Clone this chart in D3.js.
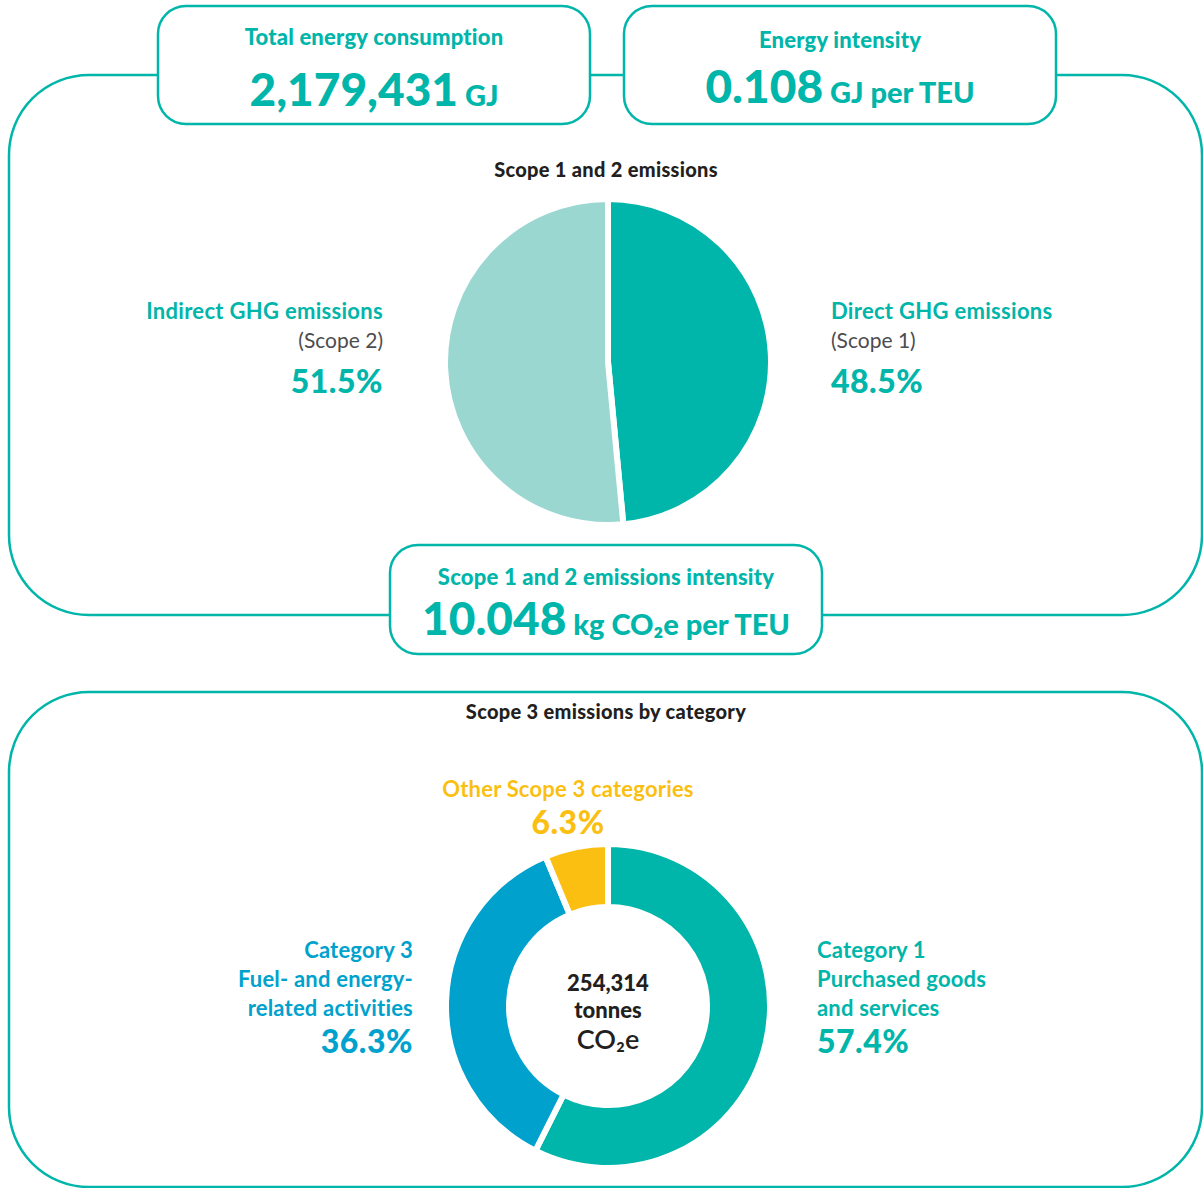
<!DOCTYPE html>
<html>
<head>
<meta charset="utf-8">
<script src="https://cdn.jsdelivr.net/npm/d3@7"></script>
<style>
  body { margin: 0; background: #fff; }
  text { font-family: Lato, "Open Sans", sans-serif; }
</style>
</head>
<body>
<div id="chart"></div>
<script>
// headline metrics
const metricTitles = ["Total energy consumption", "Energy intensity", "Scope 1 and 2 emissions intensity"];
const metricValues = ["2,179,431", "0.108", "10.048"];
const metricUnits = ["GJ", "GJ per TEU", "kg CO\u2082e per TEU"];

// scope 1 and 2 pie
const scope12Labels = ["Direct GHG emissions", "Indirect GHG emissions"];
const scope12Subs = ["(Scope 1)", "(Scope 2)"];
const scope12Values = [48.5, 51.5];

// scope 3 donut
const scope3Labels = [
  ["Category 1", "Purchased goods", "and services"],
  ["Category 3", "Fuel- and energy-", "related activities"],
  ["Other Scope 3 categories"]
];
const scope3Values = [57.4, 36.3, 6.3];
const scope3Total = ["254,314", "tonnes", "CO\u2082e"];

const teal = "#00b5a9", light = "#9ad7d1", blue = "#00a2cd", yellow = "#fbbf12", dark = "#231f20";

const W = 1203, H = 1188;
const svg = d3.select("#chart").append("svg")
    .attr("width", W).attr("height", H);

// outer frames
svg.append("rect").attr("x", 9).attr("y", 75).attr("width", 1193).attr("height", 540)
    .attr("rx", 80).attr("fill", "none").attr("stroke", teal).attr("stroke-width", 2.5);
svg.append("rect").attr("x", 9).attr("y", 692).attr("width", 1193).attr("height", 495)
    .attr("rx", 80).attr("fill", "none").attr("stroke", teal).attr("stroke-width", 2.5);

// metric boxes
const boxes = [
  {x: 158, y: 6, w: 432, h: 118, ty: 45, vy: 106},
  {x: 624, y: 6, w: 432, h: 118, ty: 48, vy: 103},
  {x: 390, y: 545, w: 432, h: 109, ty: 585, vy: 635}
];
boxes.forEach(function(b, i) {
  svg.append("rect").attr("x", b.x).attr("y", b.y).attr("width", b.w).attr("height", b.h)
      .attr("rx", 28).attr("fill", "#fff").attr("stroke", teal).attr("stroke-width", 2.5);
  svg.append("text").attr("x", b.x + b.w / 2).attr("y", b.ty)
      .attr("text-anchor", "middle").attr("fill", teal)
      .style("font-size", "22px").style("font-weight", "900").style("letter-spacing", "0.2px")
      .text(metricTitles[i]);
  const t = svg.append("text").attr("x", b.x + b.w / 2).attr("y", b.vy)
      .attr("text-anchor", "middle").attr("fill", teal).style("font-weight", "900");
  t.append("tspan").style("font-size", "46px").text(metricValues[i]);
  t.append("tspan").style("font-size", "29px").text(" " + metricUnits[i]);
});

// Scope 1 and 2 pie
const pcx = 608, pcy = 362, pr = 163;
svg.append("text").attr("x", 606).attr("y", 177).attr("text-anchor", "middle")
    .attr("fill", dark).style("font-size", "20px").style("font-weight", "900")
    .style("letter-spacing", "0.3px")
    .text("Scope 1 and 2 emissions");

const pie = d3.pie().sort(null).value(d => d);
const arc12 = d3.arc().innerRadius(0).outerRadius(pr);
svg.append("g").attr("transform", "translate(" + pcx + "," + pcy + ")")
  .selectAll("path")
  .data(pie(scope12Values))
  .enter().append("path")
    .attr("d", arc12)
    .attr("fill", (d, i) => i == 0 ? teal : light)
    .attr("stroke", "#fff").attr("stroke-width", 6);

// pie labels
const p12pos = [{x: 831, anchor: "start"}, {x: 383, anchor: "end"}];
p12pos.forEach(function(p, i) {
  svg.append("text").attr("x", p.x).attr("y", 319).attr("text-anchor", p.anchor)
      .attr("fill", teal).style("font-size", "22px").style("font-weight", "bold")
      .style("letter-spacing", "0.3px")
      .text(scope12Labels[i]);
  svg.append("text").attr("x", p.x).attr("y", 348).attr("text-anchor", p.anchor)
      .attr("fill", "#4d4d4f").style("font-size", "21px")
      .text(scope12Subs[i]);
  svg.append("text").attr("x", p.x).attr("y", 393).attr("text-anchor", p.anchor)
      .attr("fill", teal).style("font-size", "32px").style("font-weight", "900")
      .style("letter-spacing", "0.5px")
      .text(scope12Values[i].toFixed(1) + "%");
});

// Scope 3 donut
const dcx = 608, dcy = 1006, dr = 162, dri = 99;
svg.append("text").attr("x", 606).attr("y", 719).attr("text-anchor", "middle")
    .attr("fill", dark).style("font-size", "20px").style("font-weight", "900")
    .style("letter-spacing", "0.3px")
    .text("Scope 3 emissions by category");

const arc3 = d3.arc().innerRadius(dri).outerRadius(dr);
const s3colors = [teal, blue, yellow];
svg.append("g").attr("transform", "translate(" + dcx + "," + dcy + ")")
  .selectAll("path")
  .data(pie(scope3Values))
  .enter().append("path")
    .attr("d", arc3)
    .attr("fill", (d, i) => s3colors[i])
    .attr("stroke", "#fff").attr("stroke-width", 6);

// donut labels
const s3pos = [
  {x: 817, y: 958, anchor: "start"},
  {x: 413, y: 958, anchor: "end"},
  {x: 568, y: 797, anchor: "middle"}
];
s3pos.forEach(function(p, i) {
  const lines = scope3Labels[i];
  lines.forEach(function(l, j) {
    svg.append("text").attr("x", p.x).attr("y", p.y + j * 29).attr("text-anchor", p.anchor)
        .attr("fill", s3colors[i]).style("font-size", "22px").style("font-weight", "bold")
        .style("letter-spacing", "0.2px")
        .text(l);
  });
  svg.append("text").attr("x", p.x).attr("y", p.y + (lines.length - 1) * 29 + 37)
      .attr("text-anchor", p.anchor)
      .attr("fill", s3colors[i]).style("font-size", "32px").style("font-weight", "900")
      .style("letter-spacing", "0.5px")
      .text(scope3Values[i].toFixed(1) + "%");
});

// donut centre
svg.append("text").attr("x", dcx).attr("y", 991).attr("text-anchor", "middle")
    .attr("fill", dark).style("font-size", "22px").style("font-weight", "900").text(scope3Total[0]);
svg.append("text").attr("x", dcx).attr("y", 1018).attr("text-anchor", "middle")
    .attr("fill", dark).style("font-size", "22px").style("font-weight", "900").text(scope3Total[1]);
svg.append("text").attr("x", dcx).attr("y", 1049).attr("text-anchor", "middle")
    .attr("fill", dark).style("font-size", "27px").style("font-weight", "600").text(scope3Total[2]);
</script>
</body>
</html>
